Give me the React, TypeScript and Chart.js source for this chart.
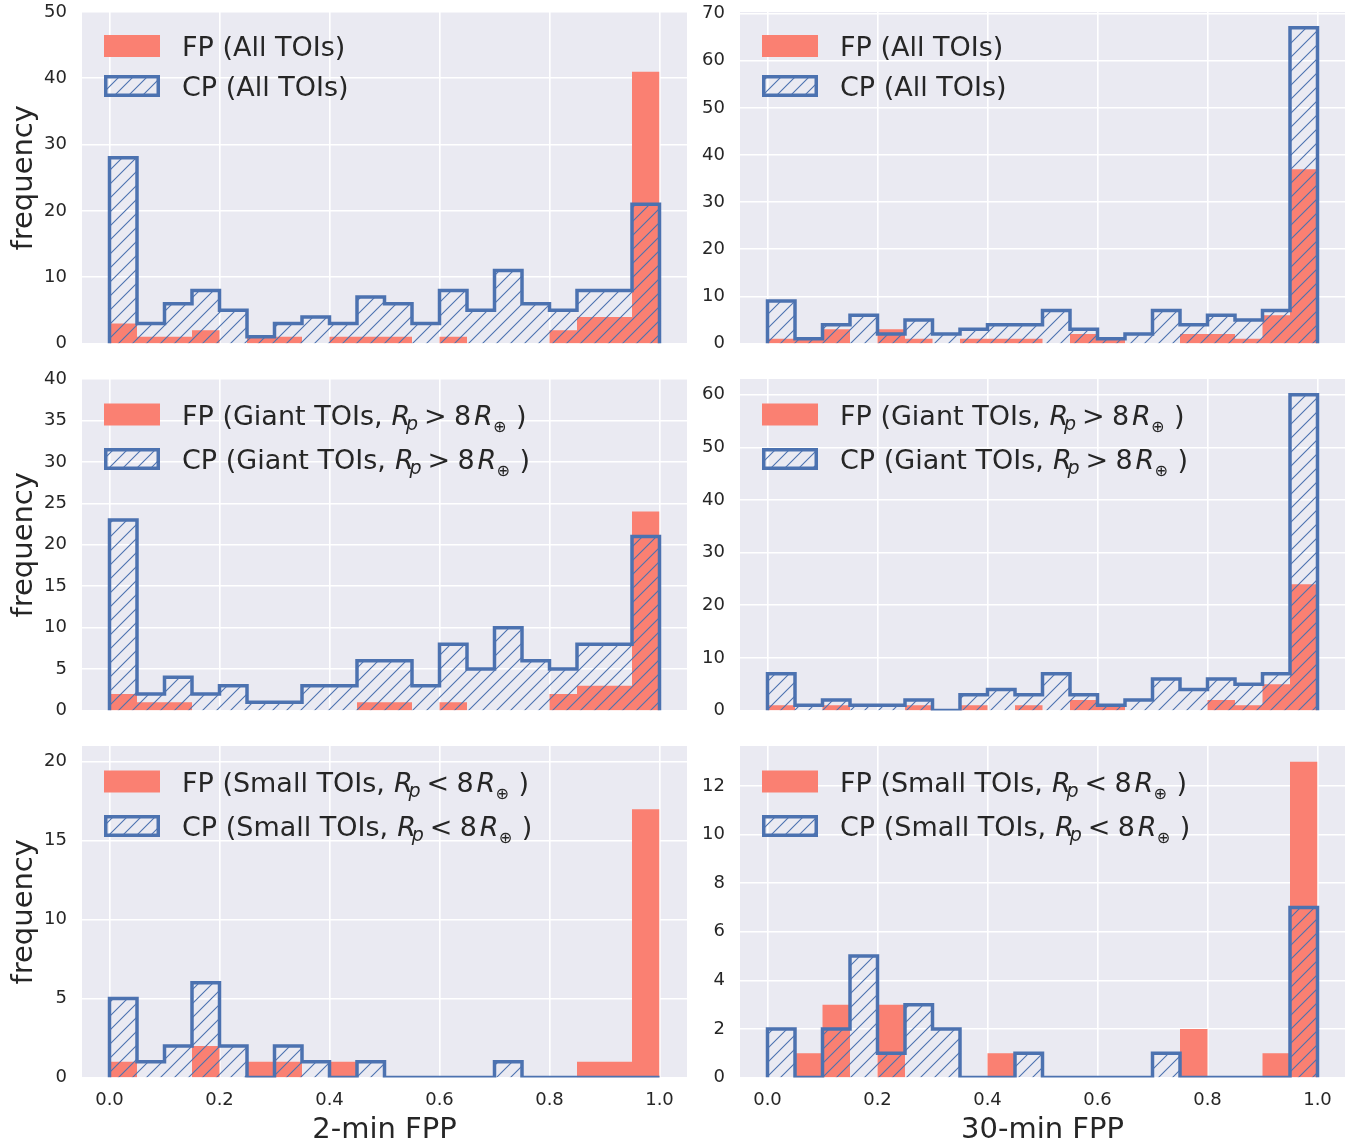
import React, { useEffect, useRef } from "react";
import { Chart, registerables } from "chart.js";

Chart.register(...registerables);

// ---------- data ----------
const binEdges = [
  0.0, 0.05, 0.1, 0.15, 0.2, 0.25, 0.3, 0.35, 0.4, 0.45, 0.5,
  0.55, 0.6, 0.65, 0.7, 0.75, 0.8, 0.85, 0.9, 0.95, 1.0,
];
const xTicks = [0.0, 0.2, 0.4, 0.6, 0.8, 1.0];
const xTickLabels = ["0.0", "0.2", "0.4", "0.6", "0.8", "1.0"];

// 2-min, all TOIs
const fp2All = [3, 1, 1, 2, 0, 1, 1, 0, 1, 1, 1, 0, 1, 0, 0, 0, 2, 4, 4, 41];
const cp2All = [28, 3, 6, 8, 5, 1, 3, 4, 3, 7, 6, 3, 8, 5, 11, 6, 5, 8, 8, 21];
// 30-min, all TOIs
const fp30All = [1, 1, 3, 0, 3, 1, 0, 1, 1, 1, 0, 2, 1, 0, 0, 2, 2, 1, 6, 37];
const cp30All = [9, 1, 4, 6, 2, 5, 2, 3, 4, 4, 7, 3, 1, 2, 7, 4, 6, 5, 7, 67];
// 2-min, giant TOIs
const fp2Giant = [2, 1, 1, 0, 0, 0, 0, 0, 0, 1, 1, 0, 1, 0, 0, 0, 2, 3, 3, 24];
const cp2Giant = [23, 2, 4, 2, 3, 1, 1, 3, 3, 6, 6, 3, 8, 5, 10, 6, 5, 8, 8, 21];
// 30-min, giant TOIs
const fp30Giant = [1, 0, 1, 0, 0, 1, 0, 1, 0, 1, 0, 2, 1, 0, 0, 0, 2, 1, 5, 24];
const cp30Giant = [7, 1, 2, 1, 1, 2, 0, 3, 4, 3, 7, 3, 1, 2, 6, 4, 6, 5, 7, 60];
// 2-min, small TOIs
const fp2Small = [1, 0, 0, 2, 0, 1, 1, 0, 1, 0, 0, 0, 0, 0, 0, 0, 0, 1, 1, 17];
const cp2Small = [5, 1, 2, 6, 2, 0, 2, 1, 0, 1, 0, 0, 0, 0, 1, 0, 0, 0, 0, 0];
// 30-min, small TOIs
const fp30Small = [0, 1, 3, 0, 3, 0, 0, 0, 1, 0, 0, 0, 0, 0, 0, 2, 0, 0, 1, 13];
const cp30Small = [2, 0, 2, 5, 1, 3, 2, 0, 0, 1, 0, 0, 0, 0, 1, 0, 0, 0, 0, 7];

const yTicksTL = [0, 10, 20, 30, 40, 50];
const yTicksTR = [0, 10, 20, 30, 40, 50, 60, 70];
const yTicksML = [0, 5, 10, 15, 20, 25, 30, 35, 40];
const yTicksMR = [0, 10, 20, 30, 40, 50, 60];
const yTicksBL = [0, 5, 10, 15, 20];
const yTicksBR = [0, 2, 4, 6, 8, 10, 12];

const xLabels = ["2-min FPP", "30-min FPP"];
const yLabel = "frequency";

// ---------- style ----------
const FONT = "'DejaVu Sans'";
const TEXT = "#262626";
const BG = "#EAEAF2";
const FP_COLOR = "#FA8072";
const CP_COLOR = "#4C72B0";

type Kind = "all" | "giant" | "small";
type PanelCfg = {
  fp: number[];
  cp: number[];
  yMax: number;
  yTicks: number[];
  kind: Kind;
  col: 0 | 1;
  row: 0 | 1 | 2;
};

const panels: PanelCfg[] = [
  { fp: fp2All, cp: cp2All, yMax: 50, yTicks: yTicksTL, kind: "all", col: 0, row: 0 },
  { fp: fp30All, cp: cp30All, yMax: 70.35, yTicks: yTicksTR, kind: "all", col: 1, row: 0 },
  { fp: fp2Giant, cp: cp2Giant, yMax: 40, yTicks: yTicksML, kind: "giant", col: 0, row: 1 },
  { fp: fp30Giant, cp: cp30Giant, yMax: 63, yTicks: yTicksMR, kind: "giant", col: 1, row: 1 },
  { fp: fp2Small, cp: cp2Small, yMax: 21, yTicks: yTicksBL, kind: "small", col: 0, row: 2 },
  { fp: fp30Small, cp: cp30Small, yMax: 13.65, yTicks: yTicksBR, kind: "small", col: 1, row: 2 },
];

const COLS = [
  { left: 0, width: 700, yAxisW: 82, padR: 13 },
  { left: 690, width: 661, yAxisW: 50, padR: 6 },
];
const ROW_TOP = [12, 379, 746];
const AXES_H = 331.5;
const CANVAS_H = [356, 356, 411];

function stepPoints(vals: number[]) {
  const n = vals.length;
  const pts = [{ x: binEdges[0], y: 0 }];
  vals.forEach((v, i) => pts.push({ x: binEdges[i], y: v }));
  pts.push({ x: binEdges[n], y: vals[n - 1] });
  pts.push({ x: binEdges[n], y: 0 });
  return pts;
}

function makeHatch(ctx: CanvasRenderingContext2D): CanvasPattern {
  const s = 14;
  const c = document.createElement("canvas");
  c.width = s;
  c.height = s;
  const g = c.getContext("2d")!;
  g.strokeStyle = CP_COLOR;
  g.lineWidth = 1.1;
  g.beginPath();
  g.moveTo(-2, s + 2);
  g.lineTo(s + 2, -2);
  g.moveTo(-2, 2);
  g.lineTo(2, -2);
  g.moveTo(s - 2, s + 2);
  g.lineTo(s + 2, s - 2);
  g.stroke();
  return ctx.createPattern(c, "repeat")!;
}

function drawLabel(
  ctx: CanvasRenderingContext2D,
  prefix: string,
  kind: Kind,
  x: number,
  y: number
) {
  ctx.fillStyle = TEXT;
  ctx.textAlign = "left";
  ctx.textBaseline = "alphabetic";
  ctx.font = `27px ${FONT}`;
  if (kind === "all") {
    ctx.fillText(`${prefix} (All TOIs)`, x, y);
    return;
  }
  const pre = `${prefix} (${kind === "giant" ? "Giant" : "Small"} TOIs, `;
  ctx.fillText(pre, x, y);
  const e = x + ctx.measureText(pre).width;
  ctx.font = `italic 27px ${FONT}`;
  ctx.fillText("R", e + 0.5, y);
  ctx.font = `italic 19px ${FONT}`;
  ctx.fillText("p", e + 15, y + 5);
  ctx.font = `27px ${FONT}`;
  ctx.fillText(kind === "giant" ? ">" : "<", e + 33, y);
  ctx.fillText("8", e + 63, y);
  ctx.font = `italic 27px ${FONT}`;
  ctx.fillText("R", e + 83, y);
  ctx.font = `16px ${FONT}`;
  ctx.fillText("\u2295", e + 102, y + 7);
  ctx.font = `27px ${FONT}`;
  ctx.fillText(")", e + 125, y);
}

function Panel({ cfg }: { cfg: PanelCfg }) {
  const ref = useRef<HTMLCanvasElement>(null);
  const col = COLS[cfg.col];
  const cTop = ROW_TOP[cfg.row] - 12;
  const cH = CANVAS_H[cfg.row];
  const xAxisH = cH - 12 - AXES_H;

  useEffect(() => {
    const canvas = ref.current!;
    const ctx = canvas.getContext("2d")!;
    const hatch = makeHatch(ctx);

    const bgPlugin = {
      id: "bg",
      beforeDraw(chart: any) {
        const a = chart.chartArea;
        const c = chart.ctx;
        c.save();
        c.fillStyle = BG;
        c.fillRect(a.left, a.top, a.right - a.left, a.bottom - a.top);
        c.restore();
      },
    };

    const textPlugin = {
      id: "texts",
      afterDraw(chart: any) {
        const a = chart.chartArea;
        const c: CanvasRenderingContext2D = chart.ctx;
        c.save();
        // legend
        const x0 = a.left + 22;
        const rows = cfg.kind === "all" ? [34, 74] : [35.5, 80];
        c.fillStyle = FP_COLOR;
        c.fillRect(x0, a.top + rows[0] - 11, 56, 22);
        const cy = a.top + rows[1];
        c.fillStyle = hatch;
        c.fillRect(x0 + 1.75, cy - 9.25, 52.5, 18.5);
        c.strokeStyle = CP_COLOR;
        c.lineWidth = 3.5;
        c.lineJoin = "miter";
        c.strokeRect(x0 + 1.75, cy - 9.25, 52.5, 18.5);
        drawLabel(c, "FP", cfg.kind, a.left + 100, a.top + rows[0] + 10);
        drawLabel(c, "CP", cfg.kind, a.left + 100, a.top + rows[1] + 10);

        // y label
        if (cfg.col === 0) {
          c.save();
          c.translate(24, (a.top + a.bottom) / 2);
          c.rotate(-Math.PI / 2);
          c.font = `29px ${FONT}`;
          c.fillStyle = TEXT;
          c.textAlign = "center";
          c.textBaseline = "middle";
          c.fillText(yLabel, 0, 0);
          c.restore();
        }
        // x label
        if (cfg.row === 2) {
          c.font = `29px ${FONT}`;
          c.fillStyle = TEXT;
          c.textAlign = "center";
          c.textBaseline = "alphabetic";
          c.fillText(xLabels[cfg.col], (a.left + a.right) / 2, a.bottom + 60.8);
        }
        c.restore();
      },
    };

    const chart = new Chart(ctx, {
      type: "line",
      data: {
        datasets: [
          {
            label: "CP",
            data: stepPoints(cfg.cp),
            stepped: "before",
            fill: "origin",
            backgroundColor: hatch as any,
            borderColor: CP_COLOR,
            borderWidth: 3.5,
            borderJoinStyle: "miter",
            borderCapStyle: "butt",
            pointRadius: 0,
            clip: 0,
          } as any,
          {
            label: "FP",
            data: stepPoints(cfg.fp),
            stepped: "before",
            fill: "origin",
            backgroundColor: FP_COLOR,
            borderColor: "rgba(0,0,0,0)",
            borderWidth: 0,
            pointRadius: 0,
            clip: 0,
          } as any,
        ],
      },
      options: {
        animation: false,
        responsive: false,
        devicePixelRatio: 1,
        layout: { padding: { top: 12, right: col.padR, left: 0, bottom: 0 } },
        plugins: { legend: { display: false }, tooltip: { enabled: false } },
        scales: {
          x: {
            type: "linear",
            min: -0.05,
            max: 1.05,
            grid: { color: "#ffffff", lineWidth: 1.6, drawTicks: false },
            border: { display: false },
            ticks: {
              display: cfg.row === 2,
              padding: 12,
              color: TEXT,
              font: { family: FONT, size: 18 },
              callback: (_v: any, i: number) => xTickLabels[i],
            },
            afterBuildTicks: (s: any) => {
              s.ticks = xTicks.map((v) => ({ value: v }));
            },
            afterFit: (s: any) => {
              s.height = xAxisH;
              s.paddingLeft = 0;
              s.paddingRight = 0;
              s.paddingTop = 0;
              s.paddingBottom = 0;
            },
          },
          y: {
            type: "linear",
            min: 0,
            max: cfg.yMax,
            grid: { color: "#ffffff", lineWidth: 1.6, drawTicks: false },
            border: { display: false },
            ticks: {
              padding: 15,
              color: TEXT,
              font: { family: FONT, size: 18 },
              callback: (v: any) => String(v),
            },
            afterBuildTicks: (s: any) => {
              s.ticks = cfg.yTicks.map((v) => ({ value: v }));
            },
            afterFit: (s: any) => {
              s.width = col.yAxisW;
              s.paddingTop = 0;
              s.paddingBottom = 0;
              s.paddingLeft = 0;
              s.paddingRight = 0;
            },
          },
        },
      } as any,
      plugins: [bgPlugin, textPlugin],
    });
    return () => chart.destroy();
  }, []);

  return (
    <canvas
      ref={ref}
      width={col.width}
      height={cH}
      style={{
        position: "absolute",
        left: col.left,
        top: cTop,
        width: col.width,
        height: cH,
      }}
    />
  );
}

export default function App() {
  return (
    <div
      style={{
        position: "absolute",
        left: 0,
        top: 0,
        width: 1351,
        height: 1145,
        background: "#ffffff",
        overflow: "hidden",
      }}
    >
      {panels.map((p, i) => (
        <Panel key={i} cfg={p} />
      ))}
    </div>
  );
}
